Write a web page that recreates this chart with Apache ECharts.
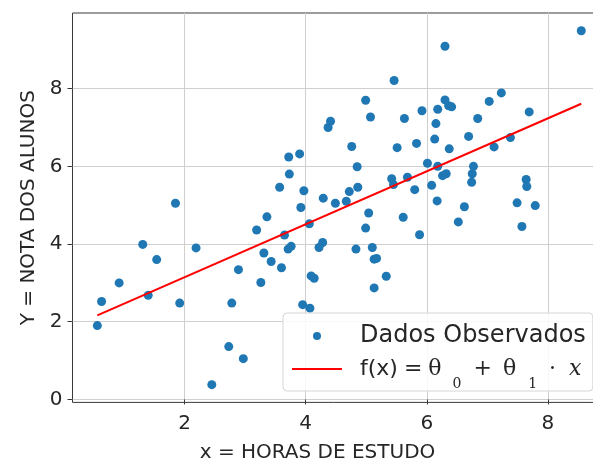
<!DOCTYPE html>
<html>
<head>
<meta charset="utf-8">
<script src="https://cdn.jsdelivr.net/npm/echarts@6/dist/echarts.min.js"></script>
<style>
  html, body { margin: 0; padding: 0; background: #ffffff; }
  #chart { width: 593px; height: 465px; }
</style>
</head>
<body>
<div id="chart"></div>
<script>
// ---- data ----
const hoursX = [
  0.56, 0.63, 0.92, 1.31, 1.40, 1.54, 1.85, 1.92, 2.19, 2.45,
  2.73, 2.78, 2.89, 2.97, 3.19, 3.26, 3.31, 3.36, 3.43, 3.57,
  3.60, 3.65, 3.71, 3.76, 3.72, 3.90, 3.73, 3.92, 3.97, 3.95,
  4.07, 4.06, 4.09, 4.14, 4.22, 4.28, 4.29, 4.37, 4.41, 4.49,
  4.67, 4.72, 4.76, 4.83, 4.85, 4.86, 4.99, 4.99, 5.04, 5.07,
  5.10, 5.13, 5.17, 5.13, 5.33, 5.42, 5.45, 5.46, 5.51, 5.61,
  5.63, 5.68, 5.80, 5.83, 5.88, 5.92, 6.01, 6.08, 6.13, 6.15,
  6.17, 6.18, 6.18, 6.26, 6.32, 6.30, 6.30, 6.36, 6.41, 6.37,
  6.52, 6.62, 6.69, 6.74, 6.75, 6.77, 6.84, 7.03, 7.11, 7.23,
  7.38, 7.49, 7.57, 7.64, 7.65, 7.69, 7.79, 8.55
];
const gradesY = [
  1.90, 2.52, 3.00, 3.99, 2.68, 3.60, 5.05, 2.48, 3.90, 0.38,
  1.36, 2.48, 3.34, 1.05, 4.36, 3.01, 3.77, 4.70, 3.55, 5.46,
  3.39, 4.23, 3.87, 3.94, 6.24, 6.32, 5.80, 4.94, 5.37, 2.44,
  2.35, 4.52, 3.18, 3.12, 3.91, 4.04, 5.18, 7.00, 7.16, 5.05,
  5.10, 5.35, 6.51, 3.87, 5.99, 5.46, 7.70, 4.41, 4.80, 7.27,
  3.91, 3.61, 3.63, 2.87, 3.17, 5.68, 5.53, 8.21, 6.48, 4.69,
  7.23, 5.72, 5.40, 6.59, 4.24, 7.43, 6.08, 5.51, 6.70, 7.10,
  5.11, 7.47, 6.00, 5.76, 5.81, 9.09, 7.71, 7.56, 7.53, 6.45,
  4.57, 4.96, 6.77, 5.59, 5.81, 6.00, 7.23, 7.67, 6.50, 7.89,
  6.74, 5.06, 4.45, 5.66, 5.48, 7.40, 4.99, 9.49
];
// fitted regression line f(x) = theta0 + theta1 * x
const theta0 = 1.78;
const theta1 = 0.682;
// tick labels
const xTicks = [2, 4, 6, 8];
const yTicks = [0, 2, 4, 6, 8];
// text
const xTitle = 'x = HORAS DE ESTUDO';
const yTitle = 'Y = NOTA DOS ALUNOS';
const legendScatter = 'Dados Observados';
const legendLine = 'f(x)';

// ---- build ----
const scatterData = hoursX.map((x, i) => [x, gradesY[i]]);
const xMinData = Math.min.apply(null, hoursX);
const xMaxData = Math.max.apply(null, hoursX);
const lineData = [xMinData, xMaxData].map(x => [x, theta0 + theta1 * x]);

const chart = echarts.init(document.getElementById('chart'), null, { renderer: 'canvas' });
const textColor = '#262626';
const sans = 'DejaVu Sans';
const serif = 'DejaVu Serif';

const richStyles = {
  sp: { width: 13 },
  t: { fontSize: 24, fontFamily: sans, color: textColor, lineHeight: 28 },
  f: { fontSize: 22, fontFamily: sans, color: textColor, lineHeight: 28 },
  m: { fontSize: 22, fontFamily: serif, color: textColor, lineHeight: 28 },
  sub: { fontSize: 14, fontFamily: serif, color: textColor, lineHeight: 14, padding: [30, 0, 0, 0] },
  xi: { fontSize: 22, fontFamily: serif, fontStyle: 'italic', color: textColor, lineHeight: 28 }
};
const gapWidths = { g1: 6, g2: 6, g3: 11, g4: 12, g5: 11, g6: 12, g7: 12, g8: 13 };
Object.keys(gapWidths).forEach(k => { richStyles[k] = { width: gapWidths[k], lineHeight: 28 }; });

chart.setOption({
  animation: false,
  backgroundColor: '#ffffff',
  grid: {
    left: 72.5, top: 13, width: 533, height: 389.4,
    containLabel: false, outerBoundsMode: 'none',
    show: true, borderColor: '#3a3a3a', borderWidth: 1, backgroundColor: 'transparent'
  },
  xAxis: {
    type: 'value', min: 0.15, max: 8.95,
    axisLine: { show: false },
    axisTick: { show: true, length: 5, customValues: xTicks, lineStyle: { color: '#3a3a3a', width: 1 } },
    axisLabel: { customValues: xTicks, fontSize: 20, fontFamily: sans, color: textColor, margin: 11 },
    splitLine: { show: true, lineStyle: { color: '#cfcfcf', width: 1 } },
    name: xTitle, nameLocation: 'middle', nameGap: 40,
    nameTextStyle: { fontSize: 20, fontFamily: sans, color: textColor, padding: [0, 43, 0, 0] }
  },
  yAxis: {
    type: 'value', min: -0.076, max: 9.946,
    axisLine: { show: false },
    axisTick: { show: true, length: 5, customValues: yTicks, lineStyle: { color: '#3a3a3a', width: 1 } },
    axisLabel: { customValues: yTicks, fontSize: 20, fontFamily: sans, color: textColor, margin: 10 },
    splitLine: { show: true, lineStyle: { color: '#cfcfcf', width: 1 } },
    name: yTitle, nameLocation: 'middle', nameGap: 32, nameRotate: 90,
    nameTextStyle: { fontSize: 20, fontFamily: sans, color: textColor }
  },
  legend: {
    orient: 'vertical', left: 283, top: 313,
    padding: [11, 7, 0, 8], itemGap: -1,
    itemWidth: 50, itemHeight: 8,
    backgroundColor: 'rgba(255,255,255,0.85)', borderColor: '#d6d6d6', borderWidth: 1, borderRadius: 4,
    data: [
      { name: legendScatter, icon: 'circle' },
      { name: legendLine, itemStyle: { opacity: 0 } }
    ],
    formatter: function (name) {
      if (name === legendScatter) return '{sp|}{t|' + name + '}';
      return '{sp|}{f|f(x)}{g1|}{f|=}{g2|}{m|θ}{g3|}{sub|0}{g4|}{m|+}{g5|}{m|θ}{g6|}{sub|1}{g7|}{m|·}{g8|}{xi|x}';
    },
    textStyle: { color: textColor, rich: richStyles }
  },
  series: [
    {
      name: legendScatter, type: 'scatter', data: scatterData,
      symbol: 'circle', symbolSize: 9,
      itemStyle: { color: '#1f77b4', opacity: 1 },
      z: 3
    },
    {
      name: legendLine, type: 'line', data: lineData,
      symbol: 'none', showSymbol: false,
      lineStyle: { color: '#ff0000', width: 2 },
      itemStyle: { color: '#ff0000' },
      z: 4
    }
  ]
});
</script>
</body>
</html>
